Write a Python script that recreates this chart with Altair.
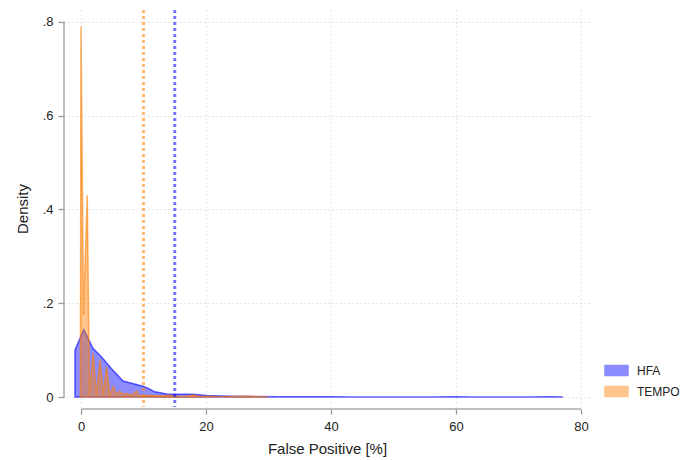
import altair as alt
import pandas as pd

# ---- data ----
series_names = ["HFA", "TEMPO"]
series_colors = ["#0000ff", "#ff7f00"]

hfa_x = [-0.96, -0.96, 0.45, 1.9, 3.25, 4.85, 6.72, 9.9, 10.7, 11.8, 13.7, 15.0, 18.0,
         20.1, 24.0, 28.0, 32.0, 36.0, 40.0, 44.0, 50.0, 56.0, 60.0, 63.0, 68.0, 72.0,
         75.0, 77.0, 77.0]
hfa_y = [0.0, 0.100, 0.144, 0.104, 0.086, 0.061, 0.034, 0.023, 0.019, 0.011, 0.0065,
         0.006, 0.0058, 0.003, 0.0018, 0.0012, 0.0006, 0.0003, 0.0005, 0.0002, 0.0001,
         0.0002, 0.0005, 0.0002, 0.0001, 0.0002, 0.0005, 0.0001, 0.0]

tempo_x = [-0.1, 0.0, 0.4, 1.0, 1.35, 1.92, 2.45, 3.04, 3.55, 4.1, 4.6, 5.2, 5.6, 6.2,
           6.8, 7.3, 8.0, 8.9, 9.3, 10.5, 11.5, 13.0, 14.0, 15.0, 16.5, 18.0, 19.0,
           20.0, 22.0, 25.0, 27.0, 29.0, 30.0]
tempo_y = [0.0, 0.79, 0.175, 0.43, 0.004, 0.093, 0.004, 0.080, 0.004, 0.064, 0.004,
           0.022, 0.006, 0.012, 0.005, 0.008, 0.003, 0.013, 0.002, 0.003, 0.003, 0.002,
           0.004, 0.002, 0.001, 0.004, 0.001, 0.0015, 0.0005, 0.001, 0.0015, 0.0003, 0.0]

thresholds = [15.0, 10.0]  # HFA, TEMPO dotted lines

x_ticks = [0, 20, 40, 60, 80]
y_ticks = [0.0, 0.2, 0.4, 0.6, 0.8]

W, H = 526, 397

hfa_df = pd.DataFrame({"x": hfa_x, "y": hfa_y, "series": "HFA"})
tempo_df = pd.DataFrame({"x": tempo_x, "y": tempo_y, "series": "TEMPO"})

thr_df = pd.DataFrame({"x": thresholds, "series": series_names})
axis_df = pd.DataFrame({"xa": [x_ticks[0]], "xb": [x_ticks[-1]],
                        "ya": [y_ticks[0]], "yb": [y_ticks[-1]]})

font = "Liberation Sans"
xscale = alt.Scale(domain=[-2.72, 81.44], nice=False, zero=False)
yscale = alt.Scale(domain=[-0.0213, 0.8252], nice=False, zero=False)
cscale = alt.Scale(domain=series_names, range=series_colors)
color = alt.Color(
    "series:N",
    scale=cscale,
    legend=alt.Legend(
        title=None, orient="none", legendX=540, legendY=348,
        symbolType="M-1,-0.43H1V0.43H-1Z", symbolSize=529,
        symbolOpacity=0.45, symbolStrokeWidth=1.5,
        labelFontSize=12, labelFont=font, labelColor="#222222", labelLimit=200,
        rowPadding=-3, padding=0, labelOffset=8,
    ),
)

xaxis = alt.Axis(values=x_ticks, title="False Positive [%]", domain=False,
                 offset=2, tickSize=5, tickColor="#999999", tickWidth=1.3,
                 labelFontSize=13, labelFont=font, labelColor="#222222",
                 labelPadding=6, titleFontSize=15, titleFont=font,
                 titleFontWeight="normal", titleColor="#222222", titlePadding=8,
                 grid=True, gridDash=[1, 3], gridColor="#cccccc")
yaxis = alt.Axis(values=y_ticks, title="Density", domain=False,
                 labelExpr="datum.value == 0 ? '0' : '.' + format(datum.value * 10, 'd')",
                 tickSize=6, tickColor="#999999", tickWidth=1.3,
                 labelFontSize=13, labelFont=font, labelColor="#222222",
                 labelPadding=5, titleFontSize=15, titleFont=font,
                 titleFontWeight="normal", titleColor="#222222", titlePadding=12,
                 grid=True, gridDash=[1, 3], gridColor="#cccccc")


def area_layer(data):
    return alt.Chart(data).mark_area(
        fillOpacity=0.45, strokeOpacity=0.6, strokeWidth=1.5
    ).encode(
        x=alt.X("x:Q", scale=xscale, axis=xaxis),
        y=alt.Y("y:Q", scale=yscale, axis=yaxis, stack=None),
        y2=alt.datum(0),
        color=color,
        stroke=alt.Stroke("series:N", scale=cscale, legend=None),
    )


hfa = area_layer(hfa_df)
tempo = area_layer(tempo_df)

vlines = alt.Chart(thr_df).mark_rule(strokeWidth=3, strokeDash=[3, 3], opacity=0.55).encode(
    x=alt.X("x:Q", scale=xscale, axis=xaxis),
    color=alt.Color("series:N", scale=cscale, legend=None),
)

xline = alt.Chart(axis_df).mark_rule(color="#a8a8a8", strokeWidth=1.5).encode(
    x=alt.X("xa:Q", scale=xscale, axis=xaxis), x2="xb:Q", y=alt.value(H + 2)
)
yline = alt.Chart(axis_df).mark_rule(color="#a8a8a8", strokeWidth=1.5).encode(
    y=alt.Y("ya:Q", scale=yscale, axis=yaxis), y2="yb:Q", x=alt.value(0)
)

chart = alt.layer(hfa, tempo, vlines, xline, yline).properties(
    width=W, height=H,
    autosize=alt.AutoSizeParams(type="none"),
    padding={"left": 56, "top": 2, "right": 91, "bottom": 50},
).configure(background="white", view=alt.ViewConfig(stroke=None))

chart.save("out.html", embed_options={"renderer": "svg", "actions": False})
